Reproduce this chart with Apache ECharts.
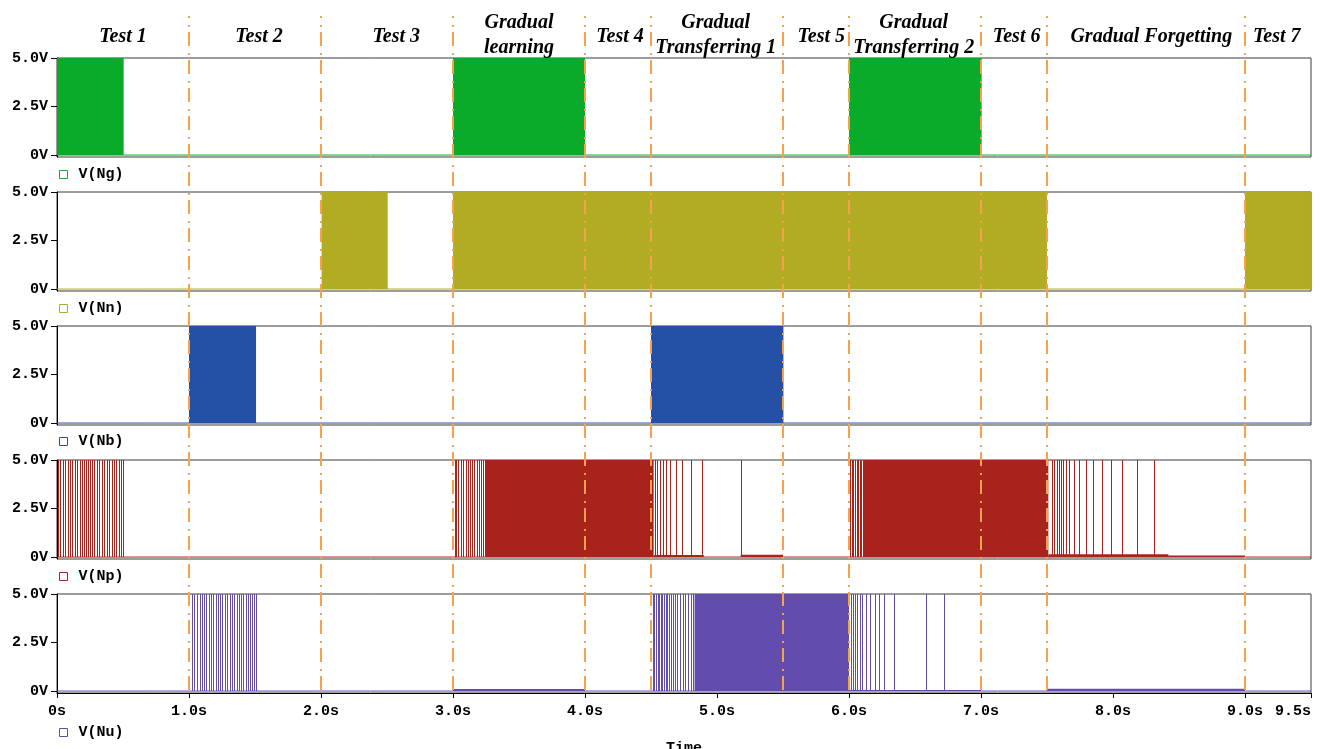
<!DOCTYPE html>
<html>
<head>
<meta charset="utf-8">
<script src="https://cdn.jsdelivr.net/npm/echarts@6/dist/echarts.min.js"></script>
<style>
  html, body { margin: 0; padding: 0; background: #fff; }
  #chart { width: 1321px; height: 749px; }
</style>
</head>
<body>
<div id="chart"></div>
<script>
// ---- data ---------------------------------------------------------------
const xTicks = [0, 1, 2, 3, 4, 5, 6, 7, 8, 9, 9.5];
const yTicks = [0, 2.5, 5];

// phase boundaries (s) and phase titles with their centre times (s)
const phaseBounds = [1, 2, 3, 4, 4.5, 5.5, 6, 7, 7.5, 9];
const phaseNames = ['Test 1', 'Test 2', 'Test 3', 'Gradual\nlearning', 'Test 4',
  'Gradual\nTransferring 1', 'Test 5', 'Gradual\nTransferring 2', 'Test 6',
  'Gradual Forgetting', 'Test 7'];
const phaseCenters = [0.5, 1.53, 2.57, 3.5, 4.265, 4.99, 5.79, 6.49, 7.27, 8.29, 9.24];

const signalNames = ['V(Ng)', 'V(Nn)', 'V(Nb)', 'V(Np)', 'V(Nu)'];

// dense spike trains: [start, end] in s (pulses between 0 and 5 V)
const ngBursts = [[0.0, 0.505], [3.0, 4.0], [6.0, 7.005]];
const nnBursts = [[2.005, 2.505], [3.0, 7.5], [9.0, 9.5]];
const nbBursts = [[1.0, 1.508], [4.5, 5.503]];
const npBursts = [[3.25, 4.52], [6.12, 7.51]];
const nuBursts = [[4.83, 6.0]];

// isolated 5 V spikes (s)
const ngSpikes = [];
const nnSpikes = [];
const nbSpikes = [];
const npSpikes = [
  0.008, 0.025, 0.044, 0.062, 0.080, 0.100, 0.116, 0.133, 0.152, 0.172, 0.188,
  0.203, 0.218, 0.232, 0.250, 0.268, 0.283, 0.305, 0.320, 0.340, 0.358, 0.376,
  0.396, 0.416, 0.432, 0.447, 0.466, 0.482, 0.497,
  3.012, 3.023, 3.040, 3.058, 3.078, 3.098, 3.116, 3.131, 3.146, 3.161, 3.179,
  3.197, 3.210, 3.225, 3.242,
  4.530, 4.548, 4.568, 4.589, 4.614, 4.644, 4.689, 4.737, 4.801, 4.889, 5.180,
  6.008, 6.020, 6.034, 6.046, 6.058, 6.070, 6.082, 6.094, 6.104, 6.113,
  7.535, 7.553, 7.573, 7.591, 7.606, 7.621, 7.642, 7.669, 7.705, 7.745, 7.795,
  7.846, 7.914, 7.985, 8.071, 8.179, 8.313
];
const nuSpikes = [
  1.025, 1.040, 1.061, 1.081, 1.096, 1.111, 1.131, 1.149, 1.167, 1.184, 1.202,
  1.220, 1.235, 1.253, 1.273, 1.290, 1.308, 1.326, 1.343, 1.361, 1.379, 1.394,
  1.412, 1.429, 1.447, 1.462, 1.480, 1.495, 1.505,
  4.513, 4.525, 4.536, 4.550, 4.561, 4.573, 4.585, 4.597, 4.610, 4.622, 4.638,
  4.652, 4.668, 4.683, 4.700, 4.720, 4.740, 4.760, 4.780, 4.800, 4.820,
  6.015, 6.030, 6.045, 6.060, 6.080, 6.100, 6.130, 6.160, 6.200, 6.227, 6.265,
  6.341, 6.581, 6.717
];

// low-level residual activity near 0 V: [start, end, level V]
const ngRipple = [];
const nnRipple = [];
const nbRipple = [];
const npRipple = [[4.52, 4.90, 0.10], [5.18, 5.50, 0.12], [7.51, 8.42, 0.15], [8.42, 9.0, 0.08]];
const nuRipple = [[3.0, 4.0, 0.10], [6.0, 7.0, 0.06], [7.5, 9.0, 0.12]];

// ---- styling / layout ------------------------------------------------------
const colors = ['#0aab28', '#b1ac24', '#2450a6', '#a8231c', '#624cad'];
const gridTops = [58, 192, 326, 460, 594];
const legendTops = [167, 301, 434, 569, 725];
const gridH = 99;
const LEFT = 57, RIGHT = 10;
const monoFont = 'Liberation Mono';

const traces = [
  [ngBursts, ngSpikes, ngRipple],
  [nnBursts, nnSpikes, nnRipple],
  [nbBursts, nbSpikes, nbRipple],
  [npBursts, npSpikes, npRipple],
  [nuBursts, nuSpikes, nuRipple]
];

// each datum is [t0, t1, level]; drawn as a block from 0 V up to level.
// Single-instant spikes become crisp one-pixel strokes.
function blockRenderer(color) {
  return function (params, api) {
    const t0 = api.value(0), t1 = api.value(1), lv = api.value(2);
    const pTop = api.coord([t0, lv]);
    const pEnd = api.coord([t1, 0]);
    let x = pTop[0];
    let w = pEnd[0] - pTop[0];
    if (w < 1) { x = Math.round(x); w = 1; }
    return {
      type: 'rect',
      shape: { x: x, y: pTop[1], width: w, height: pEnd[1] - pTop[1] },
      style: { fill: color }
    };
  };
}

const grids = [], xAxes = [], yAxes = [], series = [], legends = [];
traces.forEach(([bursts, spikes, ripple], i) => {
  grids.push({
    left: LEFT, right: RIGHT, top: gridTops[i], height: gridH,
    outerBoundsMode: 'none', containLabel: false,
    show: true, borderColor: '#3a3a3a', borderWidth: 1, backgroundColor: 'transparent'
  });
  const last = i === traces.length - 1;
  xAxes.push({
    type: 'value', gridIndex: i, min: 0, max: 9.5, show: last,
    axisLine: { show: true, onZero: false, lineStyle: { color: '#000', width: 1 } },
    axisTick: { show: true, length: 5, customValues: xTicks, lineStyle: { color: '#000' } },
    axisLabel: {
      customValues: xTicks, margin: 11, color: '#000', hideOverlap: false,
      alignMaxLabel: 'right',
      fontFamily: monoFont, fontWeight: 'bold', fontSize: 15,
      formatter: v => (v === 0 ? '0s' : v.toFixed(1) + 's')
    },
    splitLine: { show: false }
  });
  yAxes.push({
    type: 'value', gridIndex: i, min: -0.1, max: 5,
    axisLine: { show: true, onZero: false, lineStyle: { color: '#000', width: 1 } },
    axisTick: { show: true, length: 6, customValues: yTicks, lineStyle: { color: '#000' } },
    axisLabel: {
      customValues: yTicks, margin: 9, color: '#000',
      fontFamily: monoFont, fontWeight: 'bold', fontSize: 15,
      formatter: v => (v === 0 ? '0V' : v.toFixed(1) + 'V')
    },
    splitLine: { show: false }
  });
  const blocks = ripple.map(r => [r[0], r[1], r[2]])
    .concat(bursts.map(b => [b[0], b[1], 5]))
    .concat(spikes.map(t => [t, t, 5]));
  // 0 V baseline
  series.push({
    type: 'line', name: signalNames[i], xAxisIndex: i, yAxisIndex: i,
    data: [[0, 0], [9.5, 0]], showSymbol: false, symbol: 'none', animation: false,
    lineStyle: { color: colors[i], width: 1 }, itemStyle: { color: colors[i] }, z: 3
  });
  // pulses and residual activity
  series.push({
    type: 'custom', name: signalNames[i], xAxisIndex: i, yAxisIndex: i,
    data: blocks, encode: { x: [0, 1], y: 2 }, animation: false, clip: true,
    itemStyle: { color: colors[i] },
    renderItem: blockRenderer(colors[i]), z: 4
  });
  legends.push({
    data: [{ name: signalNames[i], itemStyle: { color: '#fff', borderColor: colors[i], borderWidth: 1 } }],
    left: 59, top: legendTops[i], padding: 0,
    icon: 'rect', itemWidth: 8, itemHeight: 8, selectedMode: false,
    textStyle: { fontFamily: monoFont, fontWeight: 'bold', fontSize: 15, color: '#000', padding: [0, 0, 0, 6] }
  });
});

// overlay grid carrying the phase-boundary markers across all panels
grids.push({ left: LEFT, right: RIGHT, top: 16, bottom: 59, show: false, outerBoundsMode: 'none' });
xAxes.push({ type: 'value', gridIndex: 5, min: 0, max: 9.5, show: false });
yAxes.push({ type: 'value', gridIndex: 5, min: 0, max: 1, show: false });
series.push({
  type: 'line', xAxisIndex: 5, yAxisIndex: 5, data: [], silent: true, animation: false, z: 10,
  markLine: {
    silent: true, symbol: 'none', animation: false,
    label: { show: false },
    lineStyle: { color: '#f7a14e', width: 2, type: [14, 5, 2, 7], opacity: 1 },
    data: phaseBounds.map(t => ({ xAxis: t }))
  }
});

const chart = echarts.init(document.getElementById('chart'), null, { renderer: 'canvas' });
chart.setOption({
  backgroundColor: '#fff',
  animation: false,
  grid: grids, xAxis: xAxes, yAxis: yAxes, legend: legends, series: series
});

// phase titles and the time-axis caption, positioned through the overlay axis
const titleGraphics = phaseNames.map((name, k) => {
  const x = chart.convertToPixel({ xAxisIndex: 5 }, phaseCenters[k]);
  const twoLine = name.indexOf('\n') >= 0;
  return {
    type: 'text', silent: true, z: 20,
    style: {
      text: name, x: x, y: twoLine ? 35.5 : 37,
      align: 'center', verticalAlign: 'middle', lineHeight: 25,
      font: 'italic bold 20px "Liberation Serif"', fill: '#000'
    }
  };
});
const midX = chart.convertToPixel({ xAxisIndex: 5 }, 4.75);
titleGraphics.push({
  type: 'text', silent: true,
  style: { text: 'Time', x: midX, y: 741, align: 'center', verticalAlign: 'top',
    font: 'bold 15px "Liberation Mono"', fill: '#000' }
});
chart.setOption({ graphic: titleGraphics });
</script>
</body>
</html>
